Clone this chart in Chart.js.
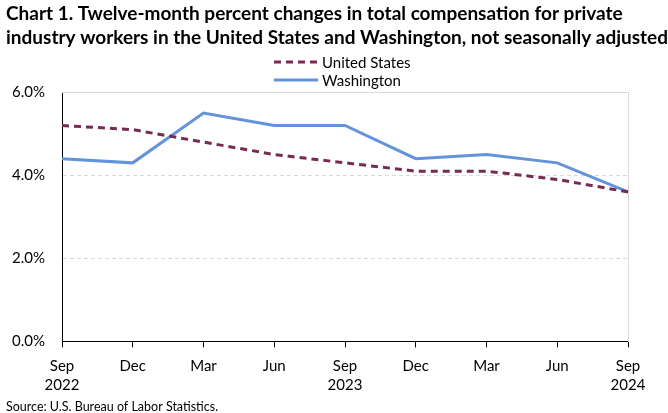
<!DOCTYPE html>
<html>
<head>
<meta charset="utf-8">
<script src="https://cdn.jsdelivr.net/npm/chart.js@4/dist/chart.umd.min.js"></script>
<style>
  html, body { margin: 0; padding: 0; background: #fff; }
  #wrap { width: 668px; height: 413px; }
</style>
</head>
<body>
<div id="wrap"><canvas id="chart"></canvas></div>
<script>
// ==== DỮ LIỆU ====
const months = ["Sep", "Dec", "Mar", "Jun", "Sep", "Dec", "Mar", "Jun", "Sep"];
const years = ["2022", "", "", "", "2023", "", "", "", "2024"];
const usValues = [5.2, 5.1, 4.8, 4.5, 4.3, 4.1, 4.1, 3.9, 3.6];
const waValues = [4.4, 4.3, 5.5, 5.2, 5.2, 4.4, 4.5, 4.3, 3.6];
const yTicks = [0, 2, 4, 6];

const titleLines = [
    "Chart 1. Twelve-month percent changes in total compensation for private",
    "industry workers in the United States and Washington, not seasonally adjusted",
];
const sourceText = "Source: U.S. Bureau of Labor Statistics.";

const FONT = "Lato, 'Liberation Sans', sans-serif";

// ==== LEGEND XẾP DỌC ====
const stackedLegend = {
    id: "stackedLegend",
    afterDraw(chart) {
        const ctx = chart.ctx;
        const x0 = 274, lineLen = 44, gap = 4;
        const rows = [62, 80];
        ctx.save();
        ctx.font = "15px " + FONT;
        ctx.textBaseline = "middle";
        chart.data.datasets.forEach((ds, i) => {
            const y = rows[i];
            ctx.strokeStyle = ds.borderColor;
            ctx.lineWidth = ds.borderWidth;
            ctx.setLineDash(ds.borderDash || []);
            ctx.beginPath();
            ctx.moveTo(x0, y);
            ctx.lineTo(x0 + lineLen, y);
            ctx.stroke();
            ctx.setLineDash([]);
            ctx.fillStyle = "#000";
            ctx.fillText(ds.label, x0 + lineLen + gap, y + 1);
        });
        ctx.restore();
    },
};

const labels = months.map((m, i) => [m, years[i]]);

new Chart(document.getElementById("chart"), {
    type: "line",
    data: {
        labels,
        datasets: [
            {
                label: "United States",
                data: usValues,
                borderColor: "#772B52",
                borderWidth: 3,
                borderDash: [7, 5],
                pointRadius: 0,
                tension: 0,
                fill: false,
            },
            {
                label: "Washington",
                data: waValues,
                borderColor: "#6394DB",
                borderWidth: 3,
                pointRadius: 0,
                tension: 0,
                fill: false,
            },
        ],
    },
    options: {
        responsive: true,
        maintainAspectRatio: false,
        animation: false,
        layout: { padding: { left: 6, right: 0, top: 0, bottom: 0 } },
        plugins: {
            legend: { display: false },
            tooltip: { enabled: false },
            title: {
                display: true,
                text: titleLines,
                align: "start",
                color: "#000",
                font: { family: FONT, size: 19, weight: "bold", lineHeight: 1.27 },
                padding: { top: 2, bottom: 42 },
            },
            subtitle: {
                display: true,
                position: "bottom",
                text: sourceText,
                align: "start",
                color: "#000",
                font: { family: FONT, size: 12.5, lineHeight: 1.0 },
                padding: { top: -3, bottom: 0 },
            },
        },
        scales: {
            x: {
                type: "category",
                offset: false,
                grid: {
                    drawOnChartArea: false,
                    tickColor: "#000",
                    tickLength: 6,
                },
                border: { color: "#000", width: 1 },
                ticks: {
                    color: "#000",
                    font: { family: FONT, size: 15, lineHeight: 1.27 },
                    maxRotation: 0,
                    autoSkip: false,
                    padding: 9,
                },
            },
            y: {
                min: 0,
                max: 6,
                afterBuildTicks: (scale) => {
                    scale.ticks = yTicks.map((v) => ({ value: v }));
                },
                afterFit: (scale) => {
                    scale.width = 56;
                },
                grid: { color: "#d9d9d9", drawTicks: false },
                border: { color: "#000", width: 1, dash: [4, 3] },
                ticks: {
                    color: "#000",
                    font: { family: FONT, size: 15 },
                    padding: 17,
                    callback: (v) => v.toFixed(1) + "%",
                },
            },
            yRight: {
                position: "right",
                display: true,
                afterFit: (scale) => {
                    scale.width = 40;
                },
                grid: { display: false, drawTicks: false },
                border: { color: "#d9d9d9", width: 1 },
                ticks: { display: false },
            },
            xTop: {
                position: "top",
                display: true,
                grid: { display: false, drawTicks: false },
                border: { color: "#d9d9d9", width: 1 },
                ticks: { display: false },
            },
        },
    },
    plugins: [stackedLegend],
});
</script>
</body>
</html>
